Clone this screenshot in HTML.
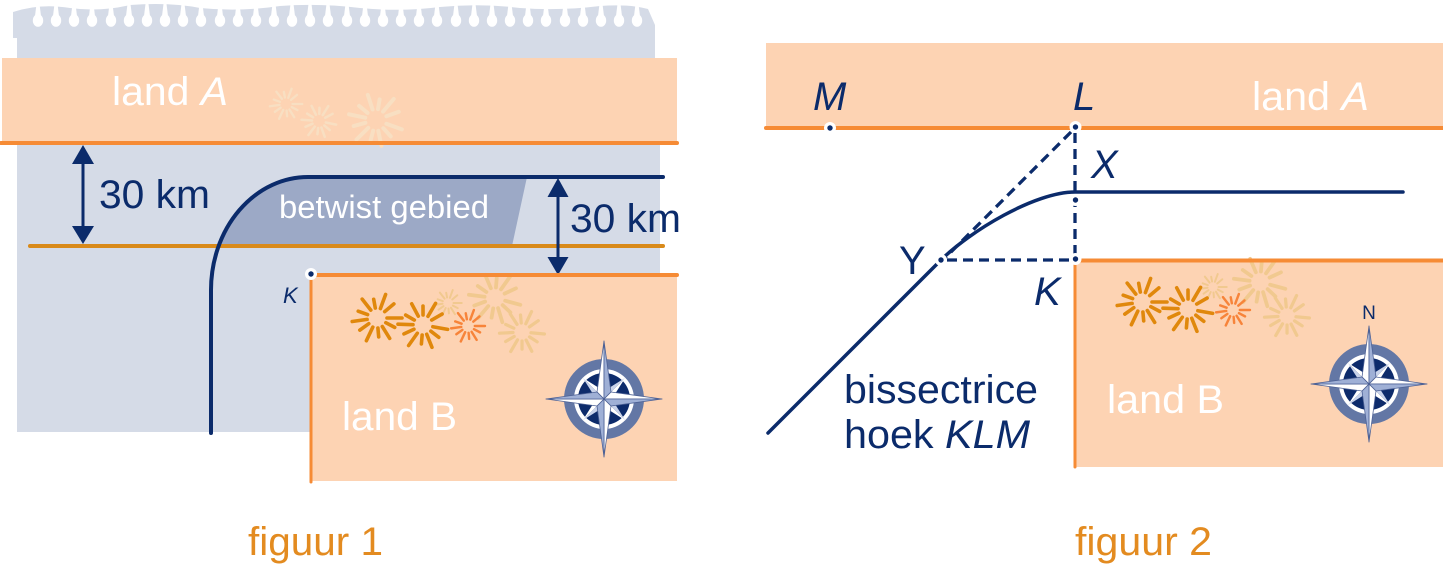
<!DOCTYPE html>
<html><head><meta charset="utf-8"><style>
html,body{margin:0;padding:0;background:#fff;}
body{width:1443px;height:569px;overflow:hidden;}
svg{display:block;}
text{font-family:"Liberation Sans",Arial,sans-serif;}
</style></head><body>
<svg width="1443" height="569" viewBox="0 0 1443 569" xmlns="http://www.w3.org/2000/svg">
<defs>
  <path id="fw" fill="none" stroke-width="3.6" stroke-linecap="round" d="M10,0L25,0 M8.8,4.7L17.7,9.4 M5.3,8.5L12.7,20.4 M0.9,10L1.7,18.9 M-4.2,9.1L-10.6,22.7 M-8.2,5.7L-17.2,12.1 M-9.9,1.4L-24.8,3.5 M-9.4,-3.4L-18.8,-6.8 M-6.2,-7.9L-14.8,-18.9 M-1.7,-9.9L-3.3,-18.7 M3.4,-9.4L8.6,-23.5 M7.7,-6.4L16.9,-14.1"/>
  <g id="hole" fill="#fff">
    <ellipse cx="0" cy="20.5" rx="5.2" ry="6.3"/>
    <path d="M-1.5,4 L1.5,4 L3,16 L-3,16 Z"/>
  </g>
  <g id="dia">
    <polygon points="0,0 9.2,-2.1 21.2,-21.2" fill="#ffffff"/>
    <polygon points="0,0 2.1,-9.2 21.2,-21.2" fill="#c9d3ea"/>
  </g>
  <g id="arm">
    <polygon points="0,0 -7,-7 0,-58" fill="#ffffff" stroke="#4d6195" stroke-width="0.8" stroke-linejoin="round"/>
    <polygon points="0,0 7,-7 0,-58" fill="#9fb0d6" stroke="#4d6195" stroke-width="0.8" stroke-linejoin="round"/>
  </g>
  <g id="compass">
    <circle r="40" fill="#6377a5"/>
    <circle r="30" fill="#ffffff"/>
    <circle r="26" fill="#0d2b6b"/>
    <use href="#dia"/>
    <use href="#dia" transform="rotate(90)"/>
    <use href="#dia" transform="rotate(180)"/>
    <use href="#dia" transform="rotate(270)"/>
    <use href="#arm"/>
    <use href="#arm" transform="rotate(90)"/>
    <use href="#arm" transform="rotate(180)"/>
    <use href="#arm" transform="rotate(270)"/>
  </g>
  <g id="bursts">
    <use href="#fw" stroke="#f1c98f" transform="translate(448,303) scale(0.55)"/>
    <use href="#fw" stroke="#f1c98f" transform="translate(495,298) rotate(15) scale(1.05)"/>
    <use href="#fw" stroke="#f1c98f" transform="translate(522,332) rotate(5) scale(0.9)"/>
    <use href="#fw" stroke="#e0880c" transform="translate(377,318)"/>
    <use href="#fw" stroke="#e0880c" transform="translate(423,325) rotate(10)"/>
    <use href="#fw" stroke="#f7843a" transform="translate(468,326) scale(0.68)"/>
  </g>
  <g id="dot">
    <circle r="6" fill="#fff"/>
    <circle r="2.7" fill="#0b2b6b"/>
  </g>
</defs>

<!-- ============ FIGURE 1 ============ -->
<path d="M13,38 L13,12 Q40,3 70,8 Q100,12 130,5 Q170,2 200,8 Q240,12 280,6 Q320,3 360,8 Q400,12 440,7 Q480,3 520,8 Q560,11 600,6 Q630,4 648,9 L655,25 L655,60 L660,60 L660,432 L17,432 L17,38 Z" fill="#d5dbe7"/>
<g>
  <use href="#hole" x="38"/><use href="#hole" x="56"/><use href="#hole" x="74"/><use href="#hole" x="92"/>
  <use href="#hole" x="111"/><use href="#hole" x="129"/><use href="#hole" x="147"/><use href="#hole" x="165"/>
  <use href="#hole" x="183"/><use href="#hole" x="201"/><use href="#hole" x="220"/><use href="#hole" x="238"/>
  <use href="#hole" x="256"/><use href="#hole" x="274"/><use href="#hole" x="292"/><use href="#hole" x="310"/>
  <use href="#hole" x="328"/><use href="#hole" x="347"/><use href="#hole" x="365"/><use href="#hole" x="383"/>
  <use href="#hole" x="401"/><use href="#hole" x="419"/><use href="#hole" x="437"/><use href="#hole" x="456"/>
  <use href="#hole" x="474"/><use href="#hole" x="492"/><use href="#hole" x="510"/><use href="#hole" x="528"/>
  <use href="#hole" x="546"/><use href="#hole" x="565"/><use href="#hole" x="583"/><use href="#hole" x="601"/>
  <use href="#hole" x="619"/><use href="#hole" x="637"/>
</g>

<!-- land A -->
<rect x="2" y="58" width="675" height="85" fill="#fdd3b3"/>
<use href="#fw" stroke="#f8dfc2" transform="translate(286,104) scale(0.65)"/>
<use href="#fw" stroke="#f8dfc2" transform="translate(319,121) rotate(12) scale(0.7)"/>
<use href="#fw" stroke="#f8dfc2" transform="translate(376,120) rotate(20) scale(1.1)"/>
<line x1="1" y1="143" x2="677" y2="143" stroke="#f68b35" stroke-width="4" stroke-linecap="round"/>
<text x="112" y="105" font-size="40" fill="#fff" textLength="116" lengthAdjust="spacingAndGlyphs">land <tspan font-style="italic">A</tspan></text>

<!-- betwist gebied fill -->
<path d="M308,177 L527,177 L512,246 L218.7,246 A97,113 0 0 1 308,177 Z" fill="#9ca9c6"/>
<text x="279" y="218" font-size="32" fill="#fff" textLength="210" lengthAdjust="spacingAndGlyphs">betwist gebied</text>

<line x1="30" y1="246" x2="663" y2="246" stroke="#d98a1a" stroke-width="4" stroke-linecap="round"/>

<path d="M211,433 L211,290 A97,113 0 0 1 308,177 L663,177" fill="none" stroke="#0b2b6b" stroke-width="4" stroke-linecap="round"/>

<line x1="83" y1="160" x2="83" y2="230" stroke="#0b2b6b" stroke-width="3"/>
<polygon points="83,145 72,164 94,164" fill="#0b2b6b"/>
<polygon points="83,244 72,226 94,226" fill="#0b2b6b"/>
<text x="99" y="208" font-size="40" fill="#0b2b6b" textLength="111" lengthAdjust="spacingAndGlyphs">30 km</text>

<line x1="558" y1="192" x2="558" y2="262" stroke="#0b2b6b" stroke-width="3"/>
<polygon points="558,178 547.5,197 568.5,197" fill="#0b2b6b"/>
<polygon points="558,275 547.5,257 568.5,257" fill="#0b2b6b"/>
<text x="570" y="232" font-size="40" fill="#0b2b6b" textLength="111" lengthAdjust="spacingAndGlyphs">30 km</text>

<rect x="311" y="275" width="366" height="206" fill="#fdd3b3"/>
<use href="#bursts"/>
<line x1="311" y1="275" x2="677" y2="275" stroke="#f68b35" stroke-width="4" stroke-linecap="round"/>
<line x1="311" y1="275" x2="311" y2="482" stroke="#f68b35" stroke-width="3" stroke-linecap="round"/>
<use href="#dot" transform="translate(311,274)"/>
<text x="283" y="303" font-size="22" font-style="italic" fill="#0b2b6b">K</text>
<text x="342" y="430" font-size="40" fill="#fff" textLength="115" lengthAdjust="spacingAndGlyphs">land B</text>
<use href="#compass" transform="translate(604,399)"/>

<text x="248" y="555" font-size="40" fill="#e38b20" textLength="135" lengthAdjust="spacingAndGlyphs">figuur 1</text>

<!-- ============ FIGURE 2 ============ -->
<rect x="766" y="43" width="677" height="85" fill="#fdd3b3"/>
<line x1="766" y1="128" x2="1443" y2="128" stroke="#f68b35" stroke-width="4" stroke-linecap="round"/>
<text x="813" y="110" font-size="40" font-style="italic" fill="#0b2b6b">M</text>
<text x="1073" y="110" font-size="40" font-style="italic" fill="#0b2b6b">L</text>
<text x="1252" y="110" font-size="40" fill="#fff" textLength="117" lengthAdjust="spacingAndGlyphs">land <tspan font-style="italic">A</tspan></text>

<rect x="1075" y="260" width="368" height="207" fill="#fdd3b3"/>
<g transform="translate(765,-16)"><use href="#bursts"/></g>
<line x1="1075" y1="260.5" x2="1443" y2="260.5" stroke="#f68b35" stroke-width="4"/>
<line x1="1075" y1="260" x2="1075" y2="467" stroke="#f68b35" stroke-width="3" stroke-linecap="round"/>
<text x="1107" y="413" font-size="40" fill="#fff" textLength="117" lengthAdjust="spacingAndGlyphs">land B</text>
<text x="1369" y="319" font-size="19" fill="#0b2b6b" text-anchor="middle">N</text>
<use href="#compass" transform="translate(1369,384)"/>

<g stroke="#0b2b6b" stroke-width="3.3" stroke-dasharray="10 6" fill="none">
  <line x1="1075" y1="133" x2="1075" y2="258"/>
  <line x1="1071" y1="132" x2="942" y2="261"/>
  <line x1="947" y1="260" x2="1072" y2="260"/>
</g>

<path d="M768,433 L940,261 C970,231 1035,192 1075,192 L1403,192" fill="none" stroke="#0b2b6b" stroke-width="3.5" stroke-linecap="round"/>

<use href="#dot" transform="translate(830,128)"/>
<use href="#dot" transform="translate(1075.5,127)"/>
<use href="#dot" transform="translate(1075.5,200)"/>
<use href="#dot" transform="translate(941,260)"/>
<use href="#dot" transform="translate(1075.5,259)"/>

<text x="1091" y="178" font-size="40" font-style="italic" fill="#0b2b6b">X</text>
<text x="899" y="274" font-size="40" fill="#0b2b6b">Y</text>
<text x="1034" y="305" font-size="40" font-style="italic" fill="#0b2b6b">K</text>
<text x="844" y="403" font-size="40" fill="#0b2b6b" textLength="194" lengthAdjust="spacingAndGlyphs">bissectrice</text>
<text x="844" y="448" font-size="40" fill="#0b2b6b" textLength="186" lengthAdjust="spacingAndGlyphs">hoek <tspan font-style="italic">KLM</tspan></text>

<text x="1075" y="555" font-size="40" fill="#e38b20" textLength="137" lengthAdjust="spacingAndGlyphs">figuur 2</text>
</svg>
</body></html>
